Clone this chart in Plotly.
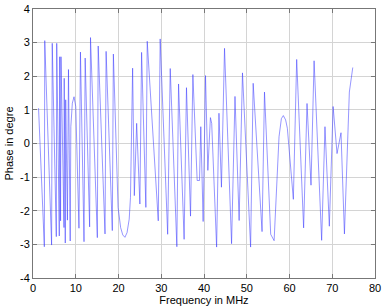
import plotly.graph_objects as go

freq_mhz = [1.3, 2.65, 2.75, 4.35, 4.5, 5.45, 5.55, 6.15, 6.25, 6.45, 6.55, 7.25, 7.3, 7.55, 7.65,
            8.05, 8.3, 8.7, 8.85, 9.2, 9.6, 10.0, 10.75, 11.1, 11.93, 12.2, 13.25, 13.45, 15.05,
            15.25, 16.85, 17.1, 18.55, 18.8, 19.9, 20.5, 21.0, 21.5, 22.0, 22.5, 22.8, 23.3, 23.7,
            24.25, 25.0, 25.4, 26.4, 26.72, 29.3, 29.75, 31.5, 32.1, 33.65, 34.05, 35.35, 35.9,
            36.85, 37.4, 38.4, 38.95, 39.25, 39.8, 40.35, 40.9, 41.5, 41.8, 42.95, 43.5, 44.08,
            44.8, 46.45, 47.25, 48.22, 49.0, 50.9, 51.5, 53.58, 54.15, 55.6, 56.4, 57.55, 58.1,
            58.56, 59.1, 59.5, 60.9, 61.68, 63.3, 64.1, 65.03, 65.75, 67.52, 68.3, 69.32, 70.2,
            71.12, 72.05, 72.85, 74.0, 74.8]
phase = [1.05, -3.07, 3.06, -3.02, 2.98, -2.77, 2.98, -2.75, 2.58, -2.3, 2.58, -2.5, 1.94, -2.96, 1.3,
         -2.28, 2.2, -2.9, 0.5, 1.2, 1.39, 1.1, -2.52, 2.72, -2.92, 2.54, -2.48, 3.15, -2.8,
         2.9, -2.69, 2.74, -2.59, 2.66, -1.9, -2.5, -2.72, -2.79, -2.65, -2.25, -1.6, 2.24, -1.55,
         0.6, -1.8, 2.71, -1.9, 3.04, -2.3, 3.11, -2.7, 2.23, -3.07, 1.77, -2.85, 1.66,
         -2.16, 2.05, -1.1, -1.1, 0.5, -2.32, 2.02, -0.8, 0.77, 0.6, -3.08, 0.9, -1.3,
         2.83, -2.98, 1.4, -2.29, 2.1, -3.08, 1.79, -2.62, 1.53, -2.7, -2.89, 0.2, 0.74,
         0.83, 0.7, 0.45, -1.66, 2.5, -2.51, 1.19, -1.24, 2.46, -2.88, 0.5, -2.46, 1.1,
         -0.3, 0.32, -2.69, 1.53, 2.26]

x_ticks = [0, 10, 20, 30, 40, 50, 60, 70, 80]
y_ticks = [-4, -3, -2, -1, 0, 1, 2, 3, 4]

fig = go.Figure()
fig.add_trace(go.Scatter(x=freq_mhz, y=phase, mode="lines",
                         line=dict(color="rgba(60,60,255,0.6)", width=0.9)))

font = dict(family="Liberation Sans, Arial, sans-serif", size=11, color="#000")
axis_common = dict(showline=True, mirror="ticks", linecolor="#777", linewidth=1,
                   ticks="inside", ticklen=4, tickcolor="#777",
                   showgrid=True, gridcolor="#d4d4d4", gridwidth=1,
                   zeroline=False, tickfont=font, automargin=False)

fig.update_layout(
    width=386, height=308, autosize=False,
    margin=dict(l=33, r=11, t=9, b=30, pad=0),
    paper_bgcolor="white", plot_bgcolor="white",
    showlegend=False,
    xaxis=dict(range=[0, 80], tickvals=x_ticks, ticktext=[str(v) for v in x_ticks],
               title=dict(text="Frequency in MHz", font=font, standoff=2), **axis_common),
    yaxis=dict(range=[-4, 4], tickvals=y_ticks, ticktext=[str(v) for v in y_ticks],
               title=dict(text="Phase in degre", font=font, standoff=4), **axis_common),
)

fig.write_html("out.html", config={"displayModeBar": False},
               post_script="document.body.style.margin='0';document.body.style.overflow='hidden';")
